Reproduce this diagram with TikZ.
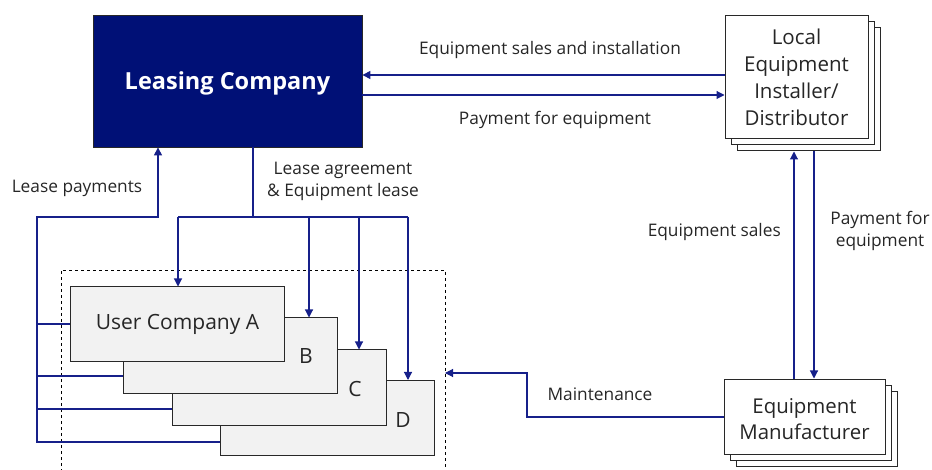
\documentclass[tikz,border=0pt]{standalone}
\usepackage{fontspec}
\setmainfont{Open Sans}
\usetikzlibrary{arrows.meta}
\definecolor{navy}{RGB}{0,16,118}
\definecolor{flow}{RGB}{22,32,138}
\definecolor{boxgray}{RGB}{242,242,242}
\definecolor{edge}{RGB}{40,40,40}
\definecolor{ink}{RGB}{38,38,38}

\begin{document}
\begin{tikzpicture}[x=1pt,y=-1pt,
  flowline/.style={draw=flow, line width=1.1pt},
  flowarrow/.style={flowline, -{Triangle[length=8pt,width=8pt]}},
  lbl/.style={font=\fontsize{17.3}{22}\selectfont, text=ink, inner sep=0pt, align=center},
  whitebox/.style={draw=edge, line width=1pt, fill=white, inner sep=0pt, align=center,
    text=ink},
  userbox/.style={draw=edge, line width=1pt, fill=boxgray, inner sep=0pt,
    minimum width=214pt, minimum height=75pt},
  boxtext/.style={font=\fontsize{21}{23}\selectfont, text=ink, inner sep=0pt},
  leasebox/.style={draw=edge, line width=0.8pt, fill=navy, text=white, inner sep=0pt}
]
\useasboundingbox (0,0) rectangle (932,470);

% group frame around the user companies
\draw[dashed, line width=0.8pt, draw=black] (61,490) -- (61,270) -- (445,270) -- (445,490);
\coordinate (grp) at (445,373);

% leasing company
\node[leasebox, minimum width=269pt, minimum height=132pt] (lease) at (227.5,81) {};
\node[text=white, inner sep=0pt, font=\fontsize{23.5}{27}\selectfont\bfseries]
  (leaseText) at (227.5,83) {Leasing Company};

% local installer / distributor (stacked)
\node[whitebox, minimum width=143pt, minimum height=123pt] (inst3) at (808.5,89.5) {};
\node[whitebox, minimum width=143pt, minimum height=123pt] (inst2) at (802.5,83.5) {};
\node[whitebox, minimum width=143pt, minimum height=123pt,
  font=\fontsize{20.5}{27}\selectfont] (inst) at (796.5,77.5)
  {Local\\Equipment\\Installer/\\Distributor};

% equipment manufacturer (stacked)
\node[whitebox, minimum width=161pt, minimum height=75pt] (mfr3) at (816.5,428.5) {};
\node[whitebox, minimum width=161pt, minimum height=75pt] (mfr2) at (810.5,422.5) {};
\node[whitebox, minimum width=161pt, minimum height=75pt] (mfr) at (804.5,416.5) {};
\node[inner sep=0pt, align=center, text=ink, font=\fontsize{20.4}{26}\selectfont]
  (mfrText) at (804.5,419) {Equipment\\Manufacturer};

% user companies
\node[userbox] (D) at (327.5,418) {};
\node[userbox] (C) at (279,387.5) {};
\node[userbox] (B) at (230.5,355.5) {};
\node[userbox, boxtext] (A) at (177.5,324.5) {User Company A};
\node[boxtext] (labB) at (306,356) {B};
\node[boxtext] (labC) at (355,389) {C};
\node[boxtext] (labD) at (403,420) {D};

% leasing company <-> installer
\draw[flowarrow] (inst.west |- 0,75) -- (lease.east |- 0,75);
\draw[flowarrow] (lease.east |- 0,95) -- (inst.west |- 0,95);
\node[lbl] (tSales) at (550,50) {Equipment sales and installation};
\node[lbl] (tPay) at (555,120) {Payment for equipment};

% installer <-> manufacturer
\draw[flowarrow] (mfr.north -| 794,0) -- (inst3.south -| 794,0);
\draw[flowarrow] (inst3.south -| 814,0) -- (mfr.north -| 814,0);
\node[lbl, anchor=east] (tEqS) at (781,232) {Equipment sales};
\node[lbl] (tPayEq) at (880,231) {Payment for\\equipment};

% maintenance
\draw[flowarrow] (mfr.west |- 0,417) -- (527,417) -- (527,373) -- (grp);
\node[lbl] (tMaint) at (600,394) {Maintenance};

% lease agreement & equipment lease
\coordinate (split) at (253,217);
\draw[flowline] (lease.south -| split) -- (split);
\draw[flowline] (178,217) -- (408,217);
\draw[flowarrow] (178,217) -- (A.north -| 178,0);
\draw[flowarrow] (309,217) -- (B.north -| 309,0);
\draw[flowarrow] (359,217) -- (C.north -| 359,0);
\draw[flowarrow] (408,217) -- (D.north -| 408,0);
\node[lbl] (tLease) at (343,181.5) {Lease agreement\\\&\ Equipment lease};

% lease payments
\draw[flowarrow] (D.west |- 0,442) -- (37,442) -- (37,217) -- (158,217) -- (lease.south -| 158,0);
\draw[flowline] (37,324) -- (A.west |- 0,324);
\draw[flowline] (37,376) -- (B.west |- 0,376);
\draw[flowline] (37,409) -- (C.west |- 0,409);
\node[lbl] (tLP) at (77,188) {Lease payments};
\end{tikzpicture}
\end{document}
